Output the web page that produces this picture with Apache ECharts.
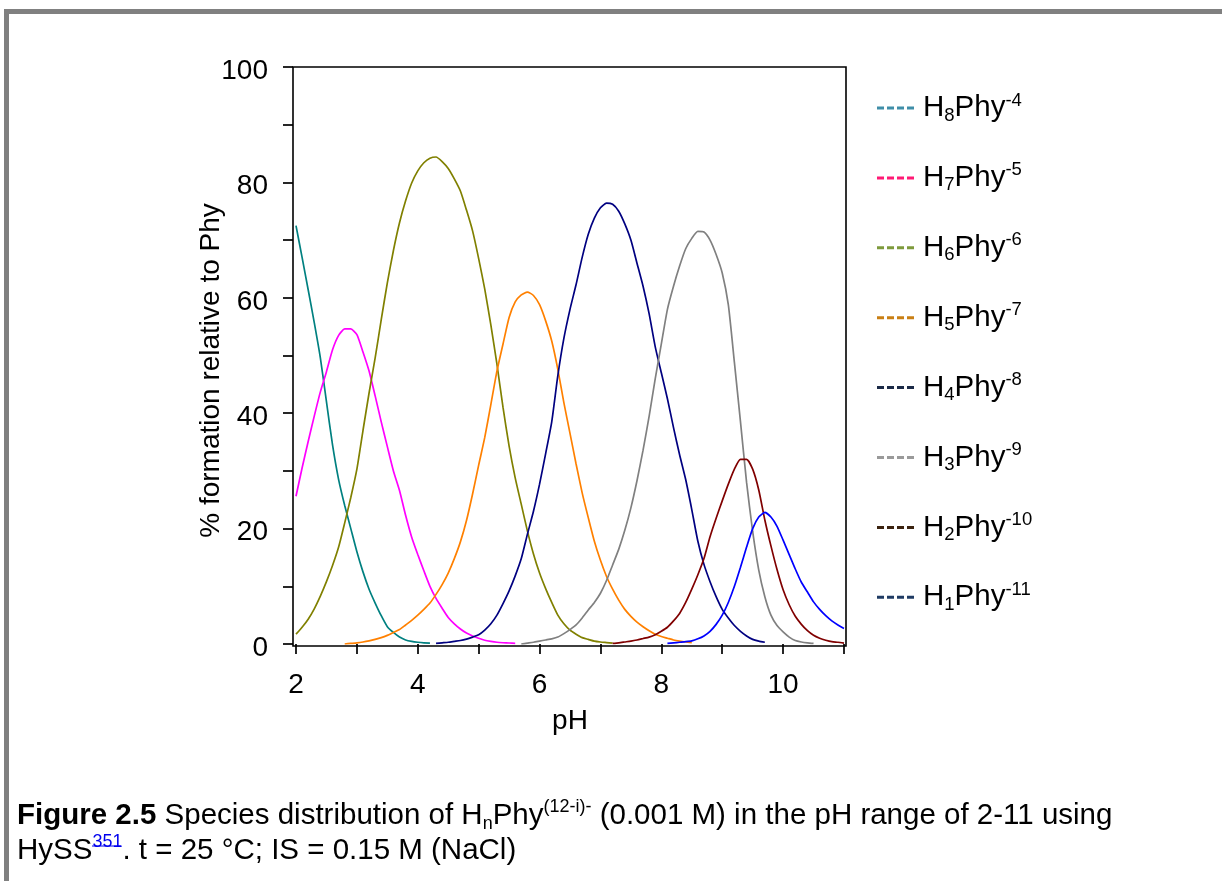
<!DOCTYPE html>
<html>
<head>
<meta charset="utf-8">
<script src="https://cdn.jsdelivr.net/npm/echarts@6/dist/echarts.min.js"></script>
<style>
  html, body { margin: 0; padding: 0; background: #fff; }
  #chart { width: 1222px; height: 881px; }
</style>
</head>
<body>
<div id="chart"></div>
<script>
// ---------------- data ----------------
const pH = [2.0,2.1,2.2,2.3,2.4,2.5,2.6,2.7,2.8,2.9,3.0,3.1,3.2,3.3,3.4,3.5,3.6,3.7,3.8,3.9,
  4.0,4.1,4.2,4.3,4.4,4.5,4.6,4.7,4.8,4.9,5.0,5.1,5.2,5.3,5.4,5.5,5.6,5.7,5.8,5.9,
  6.0,6.1,6.2,6.3,6.4,6.5,6.6,6.7,6.8,6.9,7.0,7.1,7.2,7.3,7.4,7.5,7.6,7.7,7.8,7.9,
  8.0,8.1,8.2,8.3,8.4,8.5,8.6,8.7,8.8,8.9,9.0,9.1,9.2,9.3,9.4,9.5,9.6,9.7,9.8,9.9,
  10.0,10.1,10.2,10.3,10.4,10.5,10.6,10.7,10.8,10.9,11.0];

const speciesNames = ['H8Phy-4','H7Phy-5','H6Phy-6','H5Phy-7','H4Phy-8','H3Phy-9','H2Phy-10','H1Phy-11'];
const speciesH = ['8','7','6','5','4','3','2','1'];
const speciesCharge = ['-4','-5','-6','-7','-8','-9','-10','-11'];
const lineColors = ['#008080','#ff00ff','#808000','#ff8000','#000080','#808080','#800000','#0000ff'];
const legendColors = ['#3f8ea8','#ff1a75','#7e9a3c','#c97f14','#1b2a47','#9a9a9a','#3b2310','#1f3b63'];
const startPH = [2.0, 2.0, 2.0, 2.8, 4.3, 5.7, 7.2, 8.1];

const H8 = [72.5,67.0,61.4,55.7,49.6,42.0,34.5,28.5,24.0,20.0,16.0,12.5,9.5,7.1,4.9,3.0,2.0,1.2,0.7,0.45,0.3,0.2,0.15];
const H7 = [25.6,30.5,35.1,39.5,43.7,47.2,51.0,53.5,54.6,54.6,53.6,50.6,47.3,43.0,38.5,34.2,30.0,26.6,22.3,18.5,
  15.5,12.7,10.0,7.9,6.2,4.6,3.5,2.6,1.9,1.4,1.0,0.65,0.45,0.3,0.22,0.17,0.12];
const H6 = [1.7,2.9,4.3,6.1,8.3,10.8,13.6,16.8,21.0,25.4,30.3,37.0,43.5,49.6,56.2,62.6,68.2,73.0,76.8,79.9,
  82.0,83.4,84.2,84.4,83.6,82.4,80.6,78.5,75.2,71.6,66.8,61.5,55.3,48.5,41.0,34.3,28.8,24.2,19.6,15.6,
  12.3,9.6,7.2,5.0,3.5,2.4,1.7,1.1,0.8,0.5,0.35,0.25,0.15];
const H5 = [0.0,0.1,0.2,0.35,0.55,0.8,1.1,1.5,2.0,2.5,3.3,4.1,5.0,6.0,7.1,8.6,10.3,12.3,14.8,17.7,
  21.4,26.0,31.0,35.8,41.5,47.3,52.0,56.6,59.3,60.5,61.0,60.4,58.8,56.0,52.5,47.6,41.8,36.5,31.2,26.2,
  21.9,17.8,14.5,11.7,9.5,7.6,6.0,4.8,3.8,3.0,2.3,1.7,1.3,1.0,0.7,0.5,0.35,0.25];
const H4 = [0.1,0.2,0.3,0.45,0.6,0.85,1.2,1.6,2.4,3.5,5.0,7.0,9.2,11.8,14.8,19.0,23.0,27.7,33.0,38.5,
  46.5,53.0,58.0,62.3,67.0,71.0,73.8,75.6,76.4,76.2,75.0,72.8,70.0,66.0,62.0,57.2,51.5,47.0,42.5,37.5,
  32.8,28.5,23.3,17.8,13.8,10.8,8.2,6.0,4.5,3.2,2.2,1.4,0.8,0.5,0.3];
const H3 = [0.0,0.15,0.3,0.5,0.7,0.9,1.2,1.8,2.5,3.3,4.5,5.9,7.2,8.8,11.0,13.7,16.4,19.7,23.6,28.3,
  33.6,39.5,46.0,52.0,58.0,62.0,65.5,68.5,70.3,71.5,71.4,70.0,67.5,64.3,58.8,48.8,38.5,28.0,19.5,12.8,
  8.2,5.0,3.2,2.1,1.2,0.6,0.35,0.2,0.1];
const H2 = [0.1,0.2,0.35,0.5,0.7,0.95,1.2,1.6,2.2,2.9,4.0,5.3,7.2,9.5,12.0,14.8,18.6,21.8,24.8,27.7,
  30.3,32.0,32.0,30.3,26.7,21.5,17.0,12.9,9.4,6.8,4.8,3.4,2.3,1.5,1.0,0.65,0.4,0.3,0.15];
const H1 = [0.1,0.2,0.3,0.4,0.55,0.9,1.4,2.2,3.4,5.0,7.2,10.0,13.3,16.8,20.0,22.0,22.8,22.0,20.4,18.0,
  15.5,13.0,10.7,9.0,7.3,6.0,4.9,4.0,3.3,2.7];
const seriesValues = [H8, H7, H6, H5, H4, H3, H2, H1];

const xTicks = [2, 4, 6, 8, 10];
const yTicks = [0, 20, 40, 60, 80, 100];

// ---------------- chart ----------------
const FONT = '"Liberation Sans", Arial, Helvetica, sans-serif';

function seriesData(k) {
  const i0 = pH.indexOf(startPH[k]);
  return seriesValues[k].map((v, i) => [pH[i0 + i], v]);
}

const series = speciesNames.map((name, k) => ({
  name: name,
  type: 'line',
  data: seriesData(k),
  symbol: 'none',
  smooth: 0.2,
  lineStyle: { color: lineColors[k], width: 1.7 },
  itemStyle: { color: lineColors[k] },
  z: 3
}));

const chart = echarts.init(document.getElementById('chart'), null, { renderer: 'canvas' });

chart.setOption({
  backgroundColor: '#ffffff',
  animation: false,
  textStyle: { fontFamily: FONT },
  title: {
    left: 17,
    top: 798,
    padding: 0,
    text: '{b|Figure 2.5} {r|Species distribution of H}{sub|n}{r|Phy}{sup|(12-i)-}{r| (0.001 M) in the pH range of 2-11 using}\n' +
          '{r|HySS}{link|351}{r|. t = 25 °C; IS = 0.15 M (NaCl)}',
    textStyle: {
      fontFamily: FONT, fontSize: 29.5, fontWeight: 'normal', color: '#000', lineHeight: 35,
      rich: {
        b: { fontFamily: FONT, fontSize: 29.5, fontWeight: 'bold', color: '#000', lineHeight: 35 },
        r: { fontFamily: FONT, fontSize: 29.5, color: '#000', lineHeight: 35 },
        sub: { fontFamily: FONT, fontSize: 18, color: '#000', lineHeight: 18, verticalAlign: 'bottom' },
        sup: { fontFamily: FONT, fontSize: 18, color: '#000', lineHeight: 18, verticalAlign: 'top' },
        link: { fontFamily: FONT, fontSize: 18, color: '#0000ee', lineHeight: 18, verticalAlign: 'top' }
      }
    }
  },
  grid: { left: 296, top: 67, width: 548, height: 577, show: false, containLabel: false },
  legend: {
    orient: 'vertical',
    left: 872,
    top: 86,
    itemWidth: 39,
    itemHeight: 3,
    itemGap: 35.9,
    icon: 'path://M0,0h7v3h-7z M10,0h7v3h-7z M20,0h7v3h-7z M30,0h7v3h-7z',
    selectedMode: false,
    data: speciesNames.map((n, k) => ({ name: n, itemStyle: { color: legendColors[k] } })),
    formatter: function (name) {
      const k = speciesNames.indexOf(name);
      return '{n|H}{sub|' + speciesH[k] + '}{n|Phy}{sup|' + speciesCharge[k] + '}';
    },
    textStyle: {
      fontFamily: FONT, fontSize: 29.5, color: '#000', lineHeight: 34, padding: [0, 0, 0, 3],
      rich: {
        n: { fontFamily: FONT, fontSize: 29.5, color: '#000', lineHeight: 34 },
        sub: { fontFamily: FONT, fontSize: 18.5, color: '#000', lineHeight: 18, verticalAlign: 'bottom' },
        sup: { fontFamily: FONT, fontSize: 18.5, color: '#000', lineHeight: 18, verticalAlign: 'top' }
      }
    }
  },
  xAxis: {
    type: 'value',
    min: 2, max: 11, interval: 1,
    offset: 5,
    name: 'pH',
    nameLocation: 'middle',
    nameGap: 58,
    nameMoveOverlap: false,
    nameTextStyle: { fontFamily: FONT, fontSize: 28, color: '#000' },
    axisLine: { show: false },
    axisTick: { show: true, inside: false, length: 10, lineStyle: { color: '#000', width: 1.7 } },
    axisLabel: {
      margin: 22, fontFamily: FONT, fontSize: 28, color: '#000',
      formatter: v => (xTicks.indexOf(v) >= 0 ? String(v) : '')
    },
    splitLine: { show: false }
  },
  yAxis: {
    type: 'value',
    min: 0, max: 100, interval: 10,
    offset: 3,
    name: '% formation relative to Phy',
    nameLocation: 'middle',
    nameGap: 68,
    nameRotate: 90,
    nameMoveOverlap: false,
    nameTextStyle: { fontFamily: FONT, fontSize: 28, color: '#000', padding: [0, 30, 0, 0] },
    axisLine: { show: false },
    axisTick: { show: true, inside: false, length: 10, lineStyle: { color: '#000', width: 1.7 } },
    axisLabel: {
      margin: 25, fontFamily: FONT, fontSize: 28, color: '#000',
      verticalAlign: 'top', lineHeight: 8,
      formatter: v => (yTicks.indexOf(v) >= 0 ? String(v) : '')
    },
    splitLine: { show: false }
  },
  graphic: [
    // page frame (document border)
    { type: 'rect', silent: true, z: 100, shape: { x: 4, y: 9, width: 1218, height: 5 }, style: { fill: '#808080' } },
    { type: 'rect', silent: true, z: 100, shape: { x: 4, y: 9, width: 5, height: 872 }, style: { fill: '#808080' } },
    // plot frame
    { type: 'rect', silent: true, z: 1, shape: { x: 293, y: 67, width: 553, height: 579 },
      style: { fill: 'none', stroke: '#000', lineWidth: 1.6 } },
    // hyperlink underline of the reference number
    { type: 'line', silent: true, z: 100, shape: { x1: 92, y1: 846, x2: 121, y2: 846 },
      style: { stroke: '#0000ee', lineWidth: 1 } }
  ],
  series: series
});
</script>
</body>
</html>
